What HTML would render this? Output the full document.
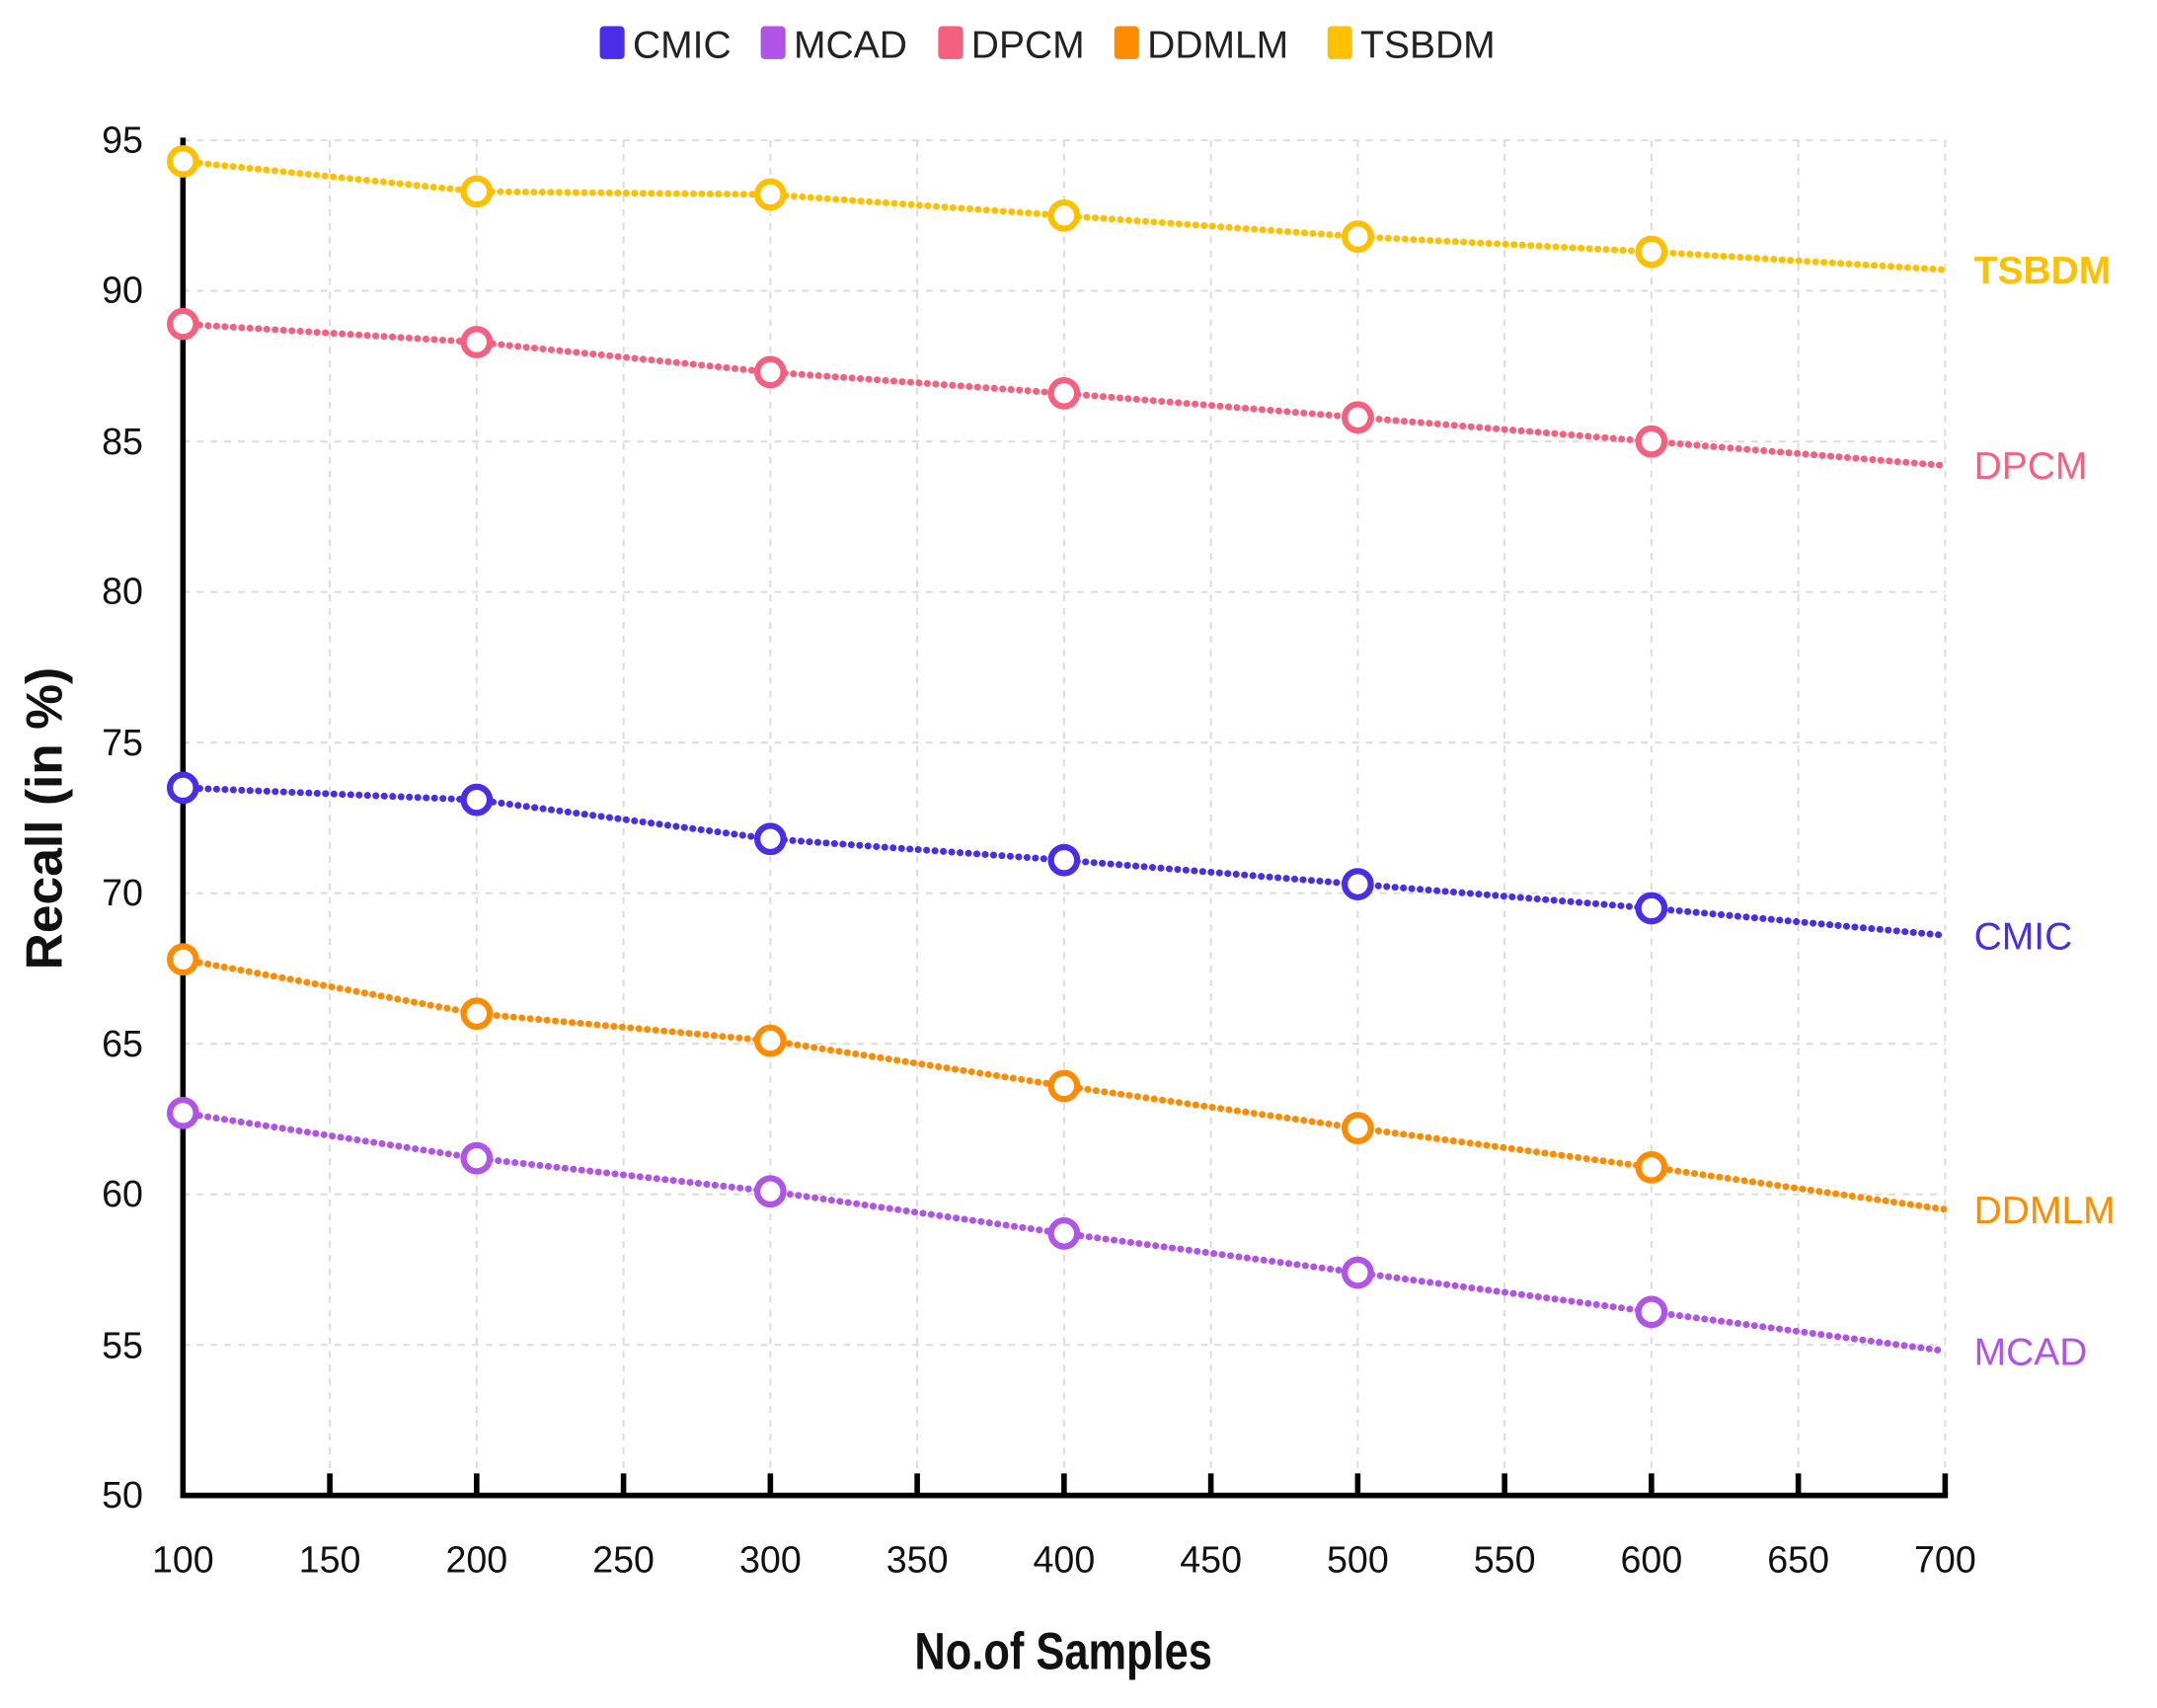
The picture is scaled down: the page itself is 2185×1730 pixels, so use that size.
<!DOCTYPE html>
<html><head><meta charset="utf-8"><style>html,body{margin:0;padding:0;background:#fff}svg{display:block}text{font-family:"Liberation Sans",sans-serif}</style></head><body>
<svg width="2185" height="1730" viewBox="0 0 1568 1241.5" xmlns="http://www.w3.org/2000/svg">
<g stroke="#ddd" stroke-width="1.5" stroke-dasharray="5 5">
<line x1="133" x2="1414" y1="102" y2="102"/><line x1="133" x2="1414" y1="211.4" y2="211.4"/><line x1="133" x2="1414" y1="320.9" y2="320.9"/><line x1="133" x2="1414" y1="430.3" y2="430.3"/><line x1="133" x2="1414" y1="539.8" y2="539.8"/><line x1="133" x2="1414" y1="649.2" y2="649.2"/><line x1="133" x2="1414" y1="758.7" y2="758.7"/><line x1="133" x2="1414" y1="868.1" y2="868.1"/><line x1="133" x2="1414" y1="977.6" y2="977.6"/>
<line y1="102" y2="1087" x1="239.75" x2="239.75"/><line y1="102" y2="1087" x1="346.5" x2="346.5"/><line y1="102" y2="1087" x1="453.25" x2="453.25"/><line y1="102" y2="1087" x1="560" x2="560"/><line y1="102" y2="1087" x1="666.75" x2="666.75"/><line y1="102" y2="1087" x1="773.5" x2="773.5"/><line y1="102" y2="1087" x1="880.25" x2="880.25"/><line y1="102" y2="1087" x1="987" x2="987"/><line y1="102" y2="1087" x1="1093.75" x2="1093.75"/><line y1="102" y2="1087" x1="1200.5" x2="1200.5"/><line y1="102" y2="1087" x1="1307.25" x2="1307.25"/><line y1="102" y2="1087" x1="1414" x2="1414"/>
</g>
<g stroke="#000" stroke-width="4" fill="none">
<polyline points="133,100 133,1087 1416,1087"/>
<path d="M239.75 1087v-16M346.5 1087v-16M453.25 1087v-16M560 1087v-16M666.75 1087v-16M773.5 1087v-16M880.25 1087v-16M987 1087v-16M1093.75 1087v-16M1200.5 1087v-16M1307.25 1087v-16M1414 1087v-16"/>
</g>
<g font-size="27" fill="#111" text-anchor="end">
<text x="104" y="111">95</text><text x="104" y="220">90</text><text x="104" y="330">85</text><text x="104" y="439">80</text><text x="104" y="549">75</text><text x="104" y="658">70</text><text x="104" y="768">65</text><text x="104" y="877">60</text><text x="104" y="987">55</text><text x="104" y="1096">50</text>
</g>
<g font-size="27" fill="#111" text-anchor="middle">
<text x="133" y="1143">100</text><text x="239.75" y="1143">150</text><text x="346.5" y="1143">200</text><text x="453.25" y="1143">250</text><text x="560" y="1143">300</text><text x="666.75" y="1143">350</text><text x="773.5" y="1143">400</text><text x="880.25" y="1143">450</text><text x="987" y="1143">500</text><text x="1093.75" y="1143">550</text><text x="1200.5" y="1143">600</text><text x="1307.25" y="1143">650</text><text x="1414" y="1143">700</text>
</g>
<text x="773" y="1213" font-size="38" font-weight="bold" text-anchor="middle" fill="#111" transform="translate(773 0) scale(0.82 1) translate(-773 0)">No.of Samples</text>
<text transform="translate(45 595) rotate(-90)" font-size="37" font-weight="bold" text-anchor="middle" fill="#111">Recall (in %)</text>
<g fill="none" stroke-width="5" stroke-linecap="round" stroke-dasharray="0.1 6">
<polyline stroke="#ffc000" points="133,117.3 346.5,139.2 560,141.4 773.5,156.7 987,172 1200.5,183 1414,196.1"/>
<polyline stroke="#f5607f" points="133,235.5 346.5,248.7 560,270.5 773.5,285.9 987,303.4 1200.5,320.9 1414,338.4"/>
<polyline stroke="#4a2de6" points="133,572.6 346.5,581.4 560,609.8 773.5,625.2 987,642.7 1200.5,660.2 1414,679.9"/>
<polyline stroke="#ff8c00" points="133,697.4 346.5,736.8 560,756.5 773.5,789.4 987,820 1200.5,848.5 1414,879.1"/>
<polyline stroke="#b054e8" points="133,809 346.5,841.9 560,866 773.5,896.6 987,925.1 1200.5,953.6 1414,982"/>
</g>
<g fill="#fff" stroke-width="4.5">
<g stroke="#ffc000"><circle cx="133" cy="117.3" r="9.5"/><circle cx="346.5" cy="139.2" r="9.5"/><circle cx="560" cy="141.4" r="9.5"/><circle cx="773.5" cy="156.7" r="9.5"/><circle cx="987" cy="172" r="9.5"/><circle cx="1200.5" cy="183" r="9.5"/></g>
<g stroke="#f5607f"><circle cx="133" cy="235.5" r="9.5"/><circle cx="346.5" cy="248.7" r="9.5"/><circle cx="560" cy="270.5" r="9.5"/><circle cx="773.5" cy="285.9" r="9.5"/><circle cx="987" cy="303.4" r="9.5"/><circle cx="1200.5" cy="320.9" r="9.5"/></g>
<g stroke="#4a2de6"><circle cx="133" cy="572.6" r="9.5"/><circle cx="346.5" cy="581.4" r="9.5"/><circle cx="560" cy="609.8" r="9.5"/><circle cx="773.5" cy="625.2" r="9.5"/><circle cx="987" cy="642.7" r="9.5"/><circle cx="1200.5" cy="660.2" r="9.5"/></g>
<g stroke="#ff8c00"><circle cx="133" cy="697.4" r="9.5"/><circle cx="346.5" cy="736.8" r="9.5"/><circle cx="560" cy="756.5" r="9.5"/><circle cx="773.5" cy="789.4" r="9.5"/><circle cx="987" cy="820" r="9.5"/><circle cx="1200.5" cy="848.5" r="9.5"/></g>
<g stroke="#b054e8"><circle cx="133" cy="809" r="9.5"/><circle cx="346.5" cy="841.9" r="9.5"/><circle cx="560" cy="866" r="9.5"/><circle cx="773.5" cy="896.6" r="9.5"/><circle cx="987" cy="925.1" r="9.5"/><circle cx="1200.5" cy="953.6" r="9.5"/></g>
</g>
<g font-size="28">
<text x="1435" y="206" fill="#ffc000" font-weight="bold">TSBDM</text>
<text x="1435" y="348" fill="#f5607f">DPCM</text>
<text x="1435" y="690" fill="#4a2de6">CMIC</text>
<text x="1435" y="889" fill="#ff8c00">DDMLM</text>
<text x="1435" y="992" fill="#b054e8">MCAD</text>
</g>
<g font-size="28" fill="#222">
<rect x="436" y="19" width="18" height="24" rx="3" fill="#4a2de6"/><text x="460" y="42">CMIC</text>
<rect x="553" y="19" width="18" height="24" rx="3" fill="#b054e8"/><text x="577" y="42">MCAD</text>
<rect x="682" y="19" width="18" height="24" rx="3" fill="#f5607f"/><text x="706" y="42">DPCM</text>
<rect x="810" y="19" width="18" height="24" rx="3" fill="#ff8c00"/><text x="834" y="42">DDMLM</text>
<rect x="965" y="19" width="18" height="24" rx="3" fill="#ffc000"/><text x="989" y="42">TSBDM</text>
</g>
</svg>
</body></html>
